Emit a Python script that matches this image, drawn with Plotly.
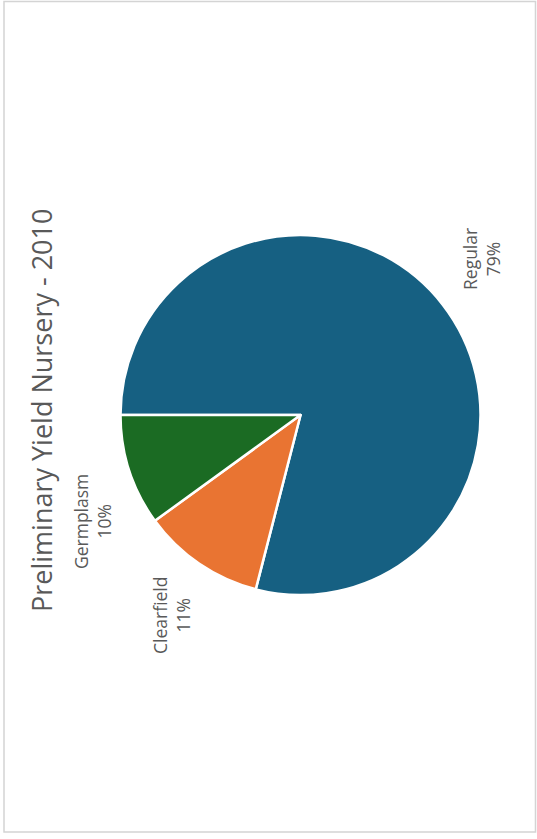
import plotly.graph_objects as go

categories = ["Regular", "Clearfield", "Germplasm"]
values = [79, 11, 10]
colors = ["#166082", "#E97432", "#1B6B23"]
title_text = "Preliminary Yield Nursery - 2010"

W, H = 537, 839

def px(x):
    return x / W

def py(y):
    return 1 - y / H

fig = go.Figure()
fig.add_trace(go.Pie(
    labels=categories,
    values=values,
    marker=dict(colors=colors, line=dict(color="white", width=2.5)),
    sort=False,
    direction="clockwise",
    rotation=270,
    textinfo="none",
    hoverinfo="label+percent",
    showlegend=False,
    domain=dict(x=[px(120), px(481)], y=[py(595), py(235)]),
))

label_pos = {"Regular": (481, 259), "Clearfield": (171, 616), "Germplasm": (92, 522)}
total = sum(values)
annotations = []
for c, v in zip(categories, values):
    x, y = label_pos[c]
    annotations.append(dict(
        x=px(x), y=py(y), xref="paper", yref="paper",
        text=f"{c}<br>{round(100 * v / total)}%",
        showarrow=False, textangle=-90,
        font=dict(family="Open Sans", size=17.5, color="#595959"),
        xanchor="center", yanchor="middle",
    ))
annotations.append(dict(
    x=px(42), y=py(411), xref="paper", yref="paper",
    text=title_text, showarrow=False, textangle=-90,
    font=dict(family="Open Sans", size=27, color="#595959"),
    xanchor="center", yanchor="middle",
))

fig.update_layout(
    width=W, height=H,
    margin=dict(l=0, r=0, t=0, b=0),
    paper_bgcolor="white",
    plot_bgcolor="white",
    annotations=annotations,
    shapes=[dict(type="rect", xref="paper", yref="paper",
                 x0=px(4), x1=px(535.5), y0=py(832), y1=py(1.5),
                 line=dict(color="#d4d4d4", width=1.5))],
)

fig.write_html(
    "out.html",
    config={"displayModeBar": False},
    post_script="document.body.style.margin='0';document.body.style.overflow='hidden';",
)
